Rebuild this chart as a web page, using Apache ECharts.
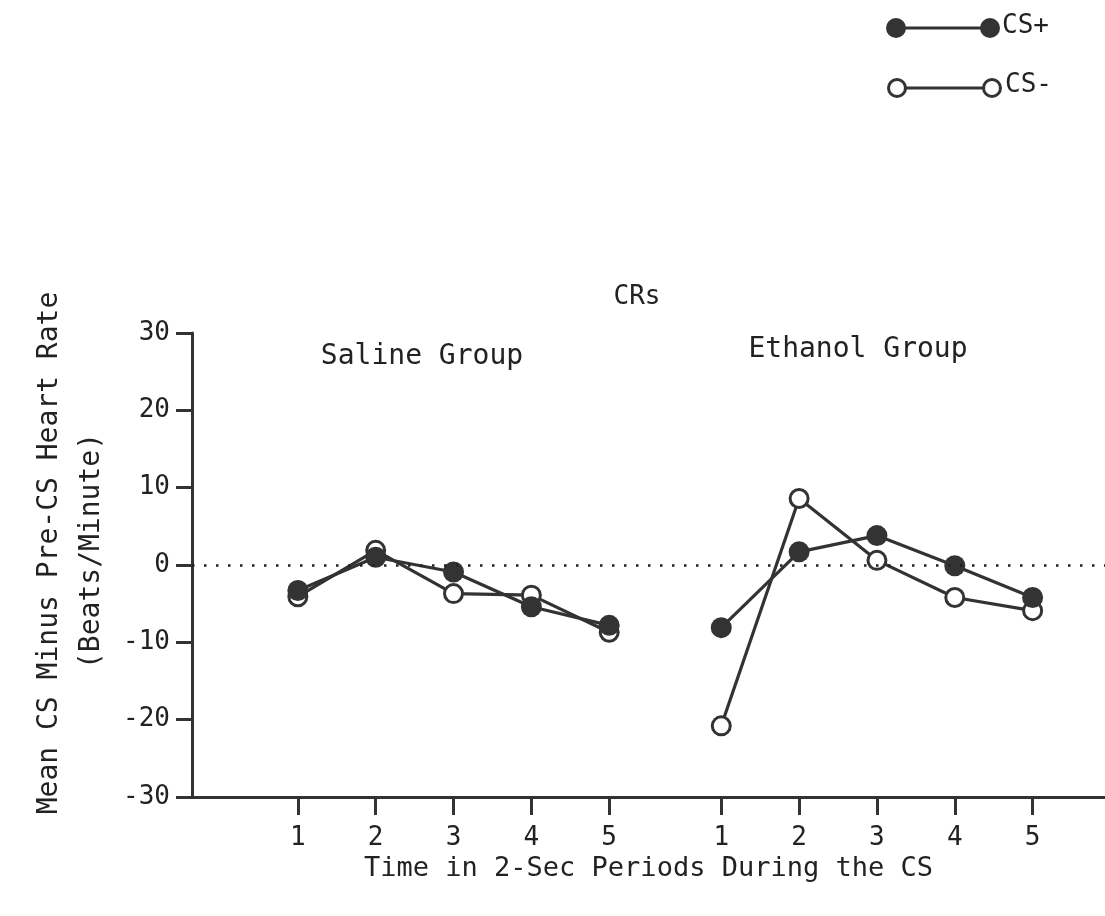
<!DOCTYPE html>
<html>
<head>
<meta charset="utf-8">
<script src="https://cdn.jsdelivr.net/npm/echarts@6/dist/echarts.min.js"></script>
<style>
  html, body { margin: 0; padding: 0; background: #fff; }
  #chart { width: 1105px; height: 916px; }
</style>
</head>
<body>
<div id="chart"></div>
<script>
// Period tick labels, shown once under each group
const periodLabels = ['1', '2', '3', '4', '5'];
// Horizontal positions of the two groups' periods on the shared time axis
const salineX = [1, 2, 3, 4, 5];
const ethanolX = [6.44, 7.44, 8.44, 9.44, 10.44];
// Mean CS minus pre-CS heart rate (beats/minute)
const salineCSPlus = [-3.3, 1.0, -0.9, -5.4, -7.8];
const salineCSMinus = [-4.1, 1.9, -3.7, -3.9, -8.7];
const ethanolCSPlus = [-8.1, 1.7, 3.8, -0.1, -4.2];
const ethanolCSMinus = [-20.8, 8.6, 0.6, -4.2, -5.9];

const INK = '#333';
const FONT = '"DejaVu Sans Mono", monospace';

const tickPositions = salineX.concat(ethanolX);
const tickLabels = periodLabels.concat(periodLabels);

function pairs(xs, ys) { return xs.map((x, i) => [x, ys[i]]); }

const filled = { symbol: 'circle', symbolSize: 21, itemStyle: { color: INK } };
const open = { symbol: 'circle', symbolSize: 18, itemStyle: { color: '#fff', borderColor: INK, borderWidth: 3 } };

function lineSeries(name, xs, ys, marker, extra) {
  return Object.assign({
    name: name,
    type: 'line',
    data: pairs(xs, ys),
    lineStyle: { color: INK, width: 3.2 },
    z: 3
  }, marker, extra || {});
}

const chart = echarts.init(document.getElementById('chart'), null, { renderer: 'canvas' });

chart.setOption({
  animation: false,
  backgroundColor: '#fff',
  grid: { left: 192, right: 0, top: 333, bottom: 119, containLabel: false, outerBoundsMode: 'none' },
  xAxis: {
    type: 'value',
    min: -0.36,
    max: 11.37,
    splitLine: { show: false },
    axisLine: { show: true, onZero: false, lineStyle: { color: INK, width: 3 } },
    axisTick: { show: true, customValues: tickPositions, length: 18, lineStyle: { color: INK, width: 3 } },
    axisLabel: {
      customValues: tickPositions,
      margin: 28,
      fontFamily: FONT, fontSize: 26, color: '#222',
      formatter: function (v) {
        const i = tickPositions.findIndex(p => Math.abs(p - v) < 1e-6);
        return i >= 0 ? tickLabels[i] : '';
      }
    },
    name: 'Time in 2-Sec Periods During the CS',
    nameLocation: 'middle',
    nameGap: 52,
    nameTextStyle: { fontFamily: FONT, fontSize: 27, color: '#222' }
  },
  yAxis: {
    type: 'value',
    min: -30,
    max: 30,
    interval: 10,
    splitLine: { show: false },
    axisLine: { show: true, onZero: false, lineStyle: { color: INK, width: 3 } },
    axisTick: { show: true, length: 16, lineStyle: { color: INK, width: 3 } },
    axisLabel: { margin: 22, fontFamily: FONT, fontSize: 26, color: '#222' }
  },
  series: [
    lineSeries('Saline CS-', salineX, salineCSMinus, open, {
      markLine: {
        silent: true,
        symbol: ['none', 'none'],
        label: { show: false },
        lineStyle: { color: '#222', type: [2.5, 9.5], width: 2.5 },
        data: [{ yAxis: 0 }]
      }
    }),
    lineSeries('Saline CS+', salineX, salineCSPlus, filled),
    lineSeries('Ethanol CS-', ethanolX, ethanolCSMinus, open),
    lineSeries('Ethanol CS+', ethanolX, ethanolCSPlus, filled)
  ],
  graphic: [
    // key: filled marker pair for CS+, open pair for CS-
    { type: 'line', shape: { x1: 896, y1: 28, x2: 990, y2: 28 }, style: { stroke: INK, lineWidth: 3 } },
    { type: 'circle', shape: { cx: 896, cy: 28, r: 10 }, style: { fill: INK } },
    { type: 'circle', shape: { cx: 990, cy: 28, r: 10 }, style: { fill: INK } },
    { type: 'text', x: 1002, y: 26, style: { text: 'CS+', font: '26px ' + FONT, fill: '#222', textVerticalAlign: 'middle' } },
    { type: 'line', shape: { x1: 897, y1: 88, x2: 992, y2: 88 }, style: { stroke: INK, lineWidth: 3 } },
    { type: 'circle', z: 10, shape: { cx: 897, cy: 88, r: 8.5 }, style: { fill: '#fff', stroke: INK, lineWidth: 3 } },
    { type: 'circle', z: 10, shape: { cx: 992, cy: 88, r: 8.5 }, style: { fill: '#fff', stroke: INK, lineWidth: 3 } },
    { type: 'text', x: 1005, y: 85, style: { text: 'CS-', font: '26px ' + FONT, fill: '#222', textVerticalAlign: 'middle' } },
    // panel headings
    { type: 'text', x: 637, y: 297, style: { text: 'CRs', font: '26px ' + FONT, fill: '#222', textAlign: 'center', textVerticalAlign: 'middle' } },
    { type: 'text', x: 422, y: 357, style: { text: 'Saline Group', font: '28px ' + FONT, fill: '#222', textAlign: 'center', textVerticalAlign: 'middle' } },
    { type: 'text', x: 858, y: 350, style: { text: 'Ethanol Group', font: '28px ' + FONT, fill: '#222', textAlign: 'center', textVerticalAlign: 'middle' } },
    // y-axis title, two rotated lines
    { type: 'text', x: 50, y: 553, rotation: Math.PI / 2, style: { text: 'Mean CS Minus Pre-CS Heart Rate', font: '28px ' + FONT, fill: '#222', textAlign: 'center', textVerticalAlign: 'middle' } },
    { type: 'text', x: 92, y: 551, rotation: Math.PI / 2, style: { text: '(Beats/Minute)', font: '28px ' + FONT, fill: '#222', textAlign: 'center', textVerticalAlign: 'middle' } }
  ]
});
</script>
</body>
</html>
